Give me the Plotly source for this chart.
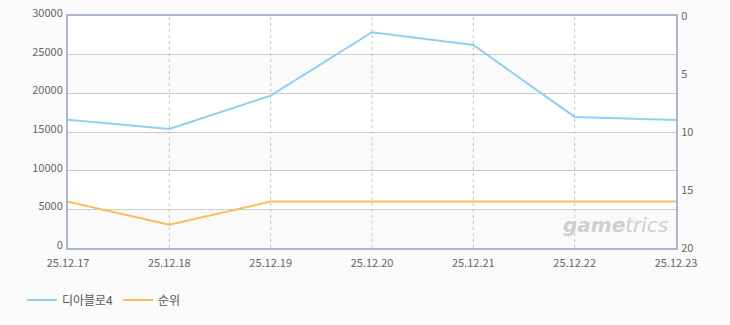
import plotly.graph_objects as go

dates = ["25.12.17", "25.12.18", "25.12.19", "25.12.20", "25.12.21", "25.12.22", "25.12.23"]
game_name = "디아블로4"
game_values = [16600, 15400, 19700, 27900, 26250, 16950, 16550]
rank_name = "순위"
rank_values = [16, 18, 16, 16, 16, 16, 16]
left_ticks = [0, 5000, 10000, 15000, 20000, 25000, 30000]
right_ticks = [0, 5, 10, 15, 20]

fig = go.Figure()
fig.add_trace(go.Scatter(x=dates, y=game_values, name=game_name, mode="lines",
                         line=dict(color="#8fd0f0", width=2), yaxis="y"))
fig.add_trace(go.Scatter(x=dates, y=rank_values, name=rank_name, mode="lines",
                         line=dict(color="#fcbc5c", width=2), yaxis="y2"))

# alternating background bands
for i in range(len(left_ticks) - 1):
    fig.add_shape(type="rect", xref="paper", yref="y", x0=0, x1=1,
                  y0=left_ticks[i], y1=left_ticks[i + 1],
                  fillcolor="#ffffff" if i % 2 else "#fafafa",
                  line=dict(width=0), layer="below")

# vertical dashed lines
for d in dates[1:-1]:
    fig.add_shape(type="line", xref="x", yref="paper", x0=d, x1=d, y0=0, y1=1,
                  line=dict(color="#c4c4c4", width=1, dash="3px,3px"), layer="below")

font = dict(family="Noto Sans CJK KR, DejaVu Sans", size=11, color="#666666")

fig.update_layout(
    width=730, height=325,
    margin=dict(l=68, r=54, t=16, b=77, autoexpand=False),
    paper_bgcolor="#fbfbfb", plot_bgcolor="#ffffff",
    font=font,
    showlegend=True,
    legend=dict(orientation="h", x=0.03, y=0.077, xref="container", yref="container",
                xanchor="left", yanchor="middle", font=dict(size=12, color="#555555"),
                bgcolor="rgba(0,0,0,0)", itemwidth=30),
    xaxis=dict(type="category", range=[0, len(dates) - 1], showgrid=False,
               showline=True, linecolor="#a9b8cc", linewidth=2, mirror=True,
               ticks="", tickfont=font, zeroline=False, ticklabelstandoff=4,
               automargin=False),
    yaxis=dict(range=[0, 30000], tickvals=left_ticks, tickformat="d", showgrid=True,
               gridcolor="#cccccc", gridwidth=1, showline=True,
               linecolor="#a9b8cc", linewidth=2, ticks="", zeroline=False,
               tickfont=font, ticklabelstandoff=1, ticklabelshift=-3, automargin=False),
    yaxis2=dict(range=[20, 0], tickvals=right_ticks, overlaying="y", side="right",
                showgrid=False, showline=True, linecolor="#a9b8cc", linewidth=2,
                ticks="", zeroline=False, tickfont=font, ticklabelstandoff=1,
                ticklabelshift=0, automargin=False),
)

fig.add_annotation(text="<i><b>game</b>trics</i>", xref="paper", yref="paper",
                   x=0.99, y=0.04, xanchor="right", yanchor="bottom", showarrow=False,
                   font=dict(family="DejaVu Sans", size=20, color="#cfcfcf"))

fig.write_html("out.html")
